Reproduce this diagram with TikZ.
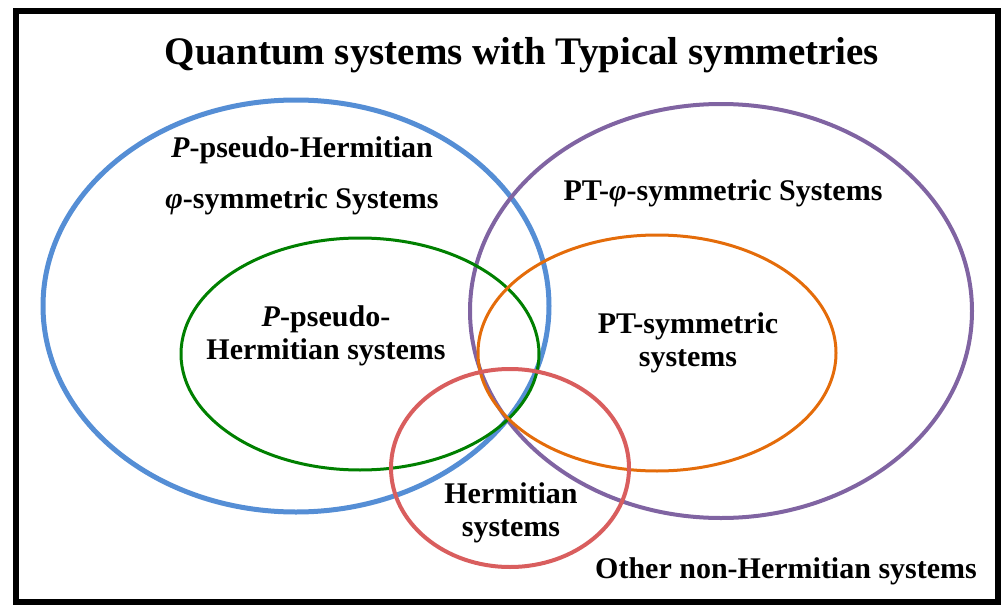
\documentclass[tikz,border=0pt]{standalone}
\usepackage{fontspec}
\setmainfont{Liberation Serif}
\usepackage{xcolor}
\usetikzlibrary{positioning}

\definecolor{setblue}{RGB}{85,142,213}
\definecolor{setpurple}{RGB}{128,100,162}
\definecolor{setgreen}{RGB}{0,128,0}
\definecolor{setorange}{RGB}{228,108,10}
\definecolor{setred}{RGB}{217,94,94}

\begin{document}
\begin{tikzpicture}[
  x=1pt,y=-1pt,
  every node/.style={font=\bfseries\fontsize{30}{33}\selectfont,align=center,inner sep=0pt},
  titletext/.style={font=\bfseries\fontsize{39}{44}\selectfont},
  setline/.style={line width=#1}
]
\useasboundingbox (0,0) rectangle (1005,605);
\draw[line width=6pt] (16,11) rectangle (998,602);

% sets
\draw[setline=5pt,setblue] (296,306) ellipse [x radius=253pt,y radius=206pt];
\draw[setline=4pt,setpurple] (721,311) ellipse [x radius=251pt,y radius=207pt];
\draw[setline=3pt,setgreen] (360,354) ellipse [x radius=179pt,y radius=116pt];
\draw[setline=3pt,setorange] (657,353) ellipse [x radius=179pt,y radius=118pt];
\draw[setline=4pt,setred] (510,468) ellipse [x radius=119pt,y radius=99pt];

% labels
\node[titletext] (title) at (522,55) {Quantum systems with Typical symmetries};
\node (pseudophi) at (302,150) {\textit{P}-pseudo-Hermitian};
\node[below=51pt of pseudophi.base,anchor=base] (phisym) {\textit{φ}-symmetric Systems};
\node (ptphi) at (723,193) {PT-\textit{φ}-symmetric Systems};
\node (pseudo) at (326,336) {\textit{P}-pseudo-\\Hermitian systems};
\node (pt) at (688,343) {PT-symmetric\\systems};
\node (herm) at (511,513) {Hermitian\\systems};
\node (other) at (786,571) {Other non-Hermitian systems};
\end{tikzpicture}
\end{document}
